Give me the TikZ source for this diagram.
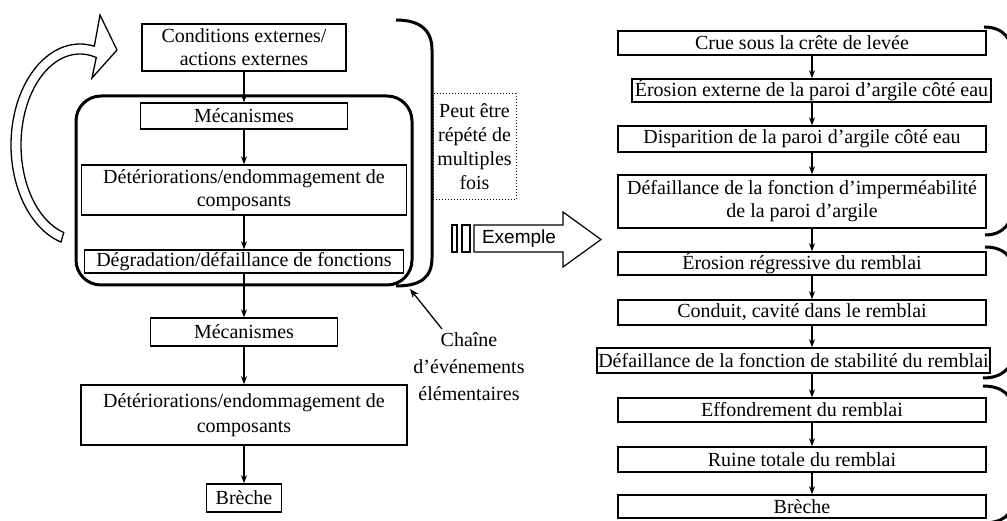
\documentclass[tikz,border=0pt]{standalone}
\usepackage{fontspec}
\setmainfont{Liberation Serif}
\newfontfamily\arialf{Liberation Sans}
\usetikzlibrary{arrows.meta}
\begin{document}
\begin{tikzpicture}[x=1pt,y=-1pt,
  box/.style={draw, line width=1.5pt, inner sep=0pt, align=center, font=\fontsize{20}{23}\selectfont},
  arr/.style={line width=1.4pt, -{Stealth[length=8pt,width=6pt]}},
  brk/.style={line width=3pt},
  outl/.style={line width=1.3pt}
]
\useasboundingbox (0,0) rectangle (1007,521);

% left column
\node[box, minimum width=204pt, minimum height=47pt] (c1) at (244,47.5) {Conditions externes/\\actions externes};
\node[box, minimum width=207pt, minimum height=26pt] (m1) at (244,116) {Mécanismes};
\node[box, minimum width=325pt, minimum height=50pt] (d1) at (244,190) {Détériorations/endommagement de\\composants};
\node[box, minimum width=319pt, minimum height=23pt] (g1) at (244,261.5) {Dégradation/défaillance de fonctions};
\node[box, minimum width=187pt, minimum height=28pt] (m2) at (244,332) {Mécanismes};
\node[box, minimum width=326pt, minimum height=60pt, font=\fontsize{20}{25}\selectfont] (d2) at (244,415) {Détériorations/endommagement de\\composants};
\node[box, minimum width=75pt, minimum height=28pt] (b1) at (244,498) {Brèche};

\draw[arr] (c1) -- (m1);
\draw[arr] (m1) -- (d1);
\draw[arr] (d1) -- (g1);
\draw[arr] (g1) -- (m2);
\draw[arr] (m2) -- (d2);
\draw[arr] (d2) -- (b1);

% rounded frame
\draw[line width=3pt, rounded corners=25pt] (76,96) rectangle (412,285);

% big bracket
\draw[brk] (396,20) .. controls (420,20) and (432,30) .. (432,50) -- (432,258) .. controls (432,278) and (420,286) .. (396,286);

% dotted box
\node[draw, dotted, line width=1pt, minimum width=83pt, minimum height=106pt, inner sep=0pt, align=center, font=\fontsize{20}{24}\selectfont] (rep) at (474.5,147) {Peut être\\répété de\\multiples\\fois};

% chain label
\node[align=center, inner sep=0pt, font=\fontsize{20}{27}\selectfont] (chain) at (469,367) {Chaîne\\d’événements\\élémentaires};
\coordinate (chs) at (442,329);
\coordinate (cht) at (410,289);
\draw[line width=1.3pt, -{Stealth[length=9pt,width=7pt]}] (chs) -- (cht);

% hollow curved arrow
\draw[outl, fill=white] plot[domain=254:78, samples=60, variable=\t] ({80+69*cos(\t)},{145-101*sin(\t)})
  -- (100,15) -- (117,50) -- (92,78)
  -- plot[domain=74:254, samples=60, variable=\t] ({80+59*cos(\t)},{145-91*sin(\t)}) -- cycle;

% Exemple arrow
\draw[line width=1.2pt] (452,225) rectangle (457,252);
\draw[line width=1.2pt] (462,225) rectangle (470,252);
\draw[line width=1.2pt] (474,225) -- (563,225) -- (563,212) -- (601,239.5) -- (563,267) -- (563,252) -- (474,252) -- cycle;
\node[font=\arialf\fontsize{19}{22}\selectfont, inner sep=0pt] (ex) at (519,239) {Exemple};

% right column
\node[box, minimum width=368pt, minimum height=24pt] (r1) at (802,43) {Crue sous la crête de levée};
\node[box, minimum width=359pt, minimum height=23pt] (r2) at (811.5,90.5) {Érosion externe de la paroi d’argile côté eau};
\node[box, minimum width=368pt, minimum height=26pt] (r3) at (802,139) {Disparition de la paroi d’argile côté eau};
\node[box, minimum width=368pt, minimum height=53pt] (r4) at (802,201.5) {Défaillance de la fonction d’imperméabilité\\de la paroi d’argile};
\node[box, minimum width=368pt, minimum height=23pt] (r5) at (802,263.5) {Érosion régressive du remblai};
\node[box, minimum width=368pt, minimum height=25pt] (r6) at (802,312.5) {Conduit, cavité dans le remblai};
\node[box, minimum width=393pt, minimum height=25pt] (r7) at (793.5,360.5) {Défaillance de la fonction de stabilité du remblai};
\node[box, minimum width=368pt, minimum height=24pt] (r8) at (802,410) {Effondrement du remblai};
\node[box, minimum width=368pt, minimum height=25pt] (r9) at (802,459.5) {Ruine totale du remblai};
\node[box, minimum width=368pt, minimum height=23pt] (r10) at (802,506.5) {Brèche};

\coordinate (ax) at (812,0);
\foreach \a/\b in {r1/r2,r2/r3,r3/r4,r4/r5,r5/r6,r6/r7,r7/r8,r8/r9,r9/r10}{
  \draw[arr] (\a.south -| ax) -- (\b.north -| ax);
}

% right brackets
\draw[brk] (984,27) .. controls (1004,27) and (1013,40) .. (1013,58) -- (1013,205) .. controls (1013,222) and (1004,235) .. (985,235);
\draw[brk] (985,247) .. controls (1002,247) and (1013,255) .. (1013,272) -- (1013,352) .. controls (1013,368) and (1002,378) .. (983,378);
\draw[brk] (983,386) .. controls (1002,386) and (1013,395) .. (1013,412) -- (1013,500) .. controls (1013,515) and (1002,523) .. (983,523);
\end{tikzpicture}
\end{document}
